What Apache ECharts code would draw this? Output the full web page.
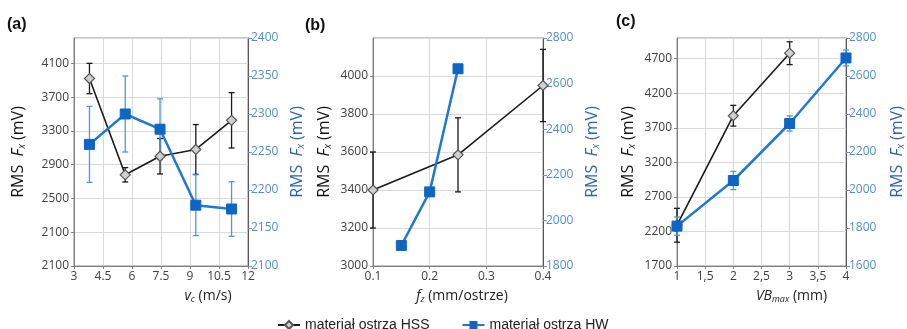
<!DOCTYPE html>
<html>
<head>
<meta charset="utf-8">
<script src="https://cdn.jsdelivr.net/npm/echarts@6/dist/echarts.min.js"></script>
<style>
  html, body { margin: 0; padding: 0; background: #fff; }
  #chart { width: 907px; height: 329px; }
</style>
</head>
<body>
<div id="chart"></div>
<script>
// (a) RMS Fx vs cutting speed
var aX = [3.8, 5.65, 7.45, 9.3, 11.15];
var aHSS = [3920, 2780, 3000, 3080, 3425];
var aHSSErr = [180, 85, 210, 295, 328];
var aHW = [2260, 2300, 2280, 2180, 2175];
var aHWErr = [50, 50, 40, 40, 36];
var aLeftTicks = ['2100', '2100', '2500', '2900', '3300', '3700', '4100'];

// (b) RMS Fx vs feed per tooth
var bXHSS = [0.1, 0.25, 0.4];
var bHSS = [3400, 3585, 3950];
var bHSSErr = [200, 195, 190];
var bXHW = [0.15, 0.2, 0.25];
var bHW = [1890, 2125, 2665];

// (c) RMS Fx vs tool wear
var cXHSS = [1, 2, 3];
var cHSS = [2290, 3875, 4780];
var cHSSErr = [245, 150, 165];
var cXHW = [1, 2, 3, 4];
var cHW = [1810, 2050, 2350, 2695];
var cHWErr = [48, 48, 40, 42];

var nameHSS = 'materiał ostrza HSS';
var nameHW = 'materiał ostrza HW';

var FONT = '"Open Sans", sans-serif';
var BLUE = '#1f78d1';
var BLUE_DARK = '#0d66c2';
var BLUE_ERR = '#4a98dd';
var BLACK = '#1a1a1a';

var chart = echarts.init(document.getElementById('chart'));

function plain(v) { return String(v); }

function pairs(xs, ys) {
  return xs.map(function (x, k) { return [x, ys[k]]; });
}

function errSeries(xs, ys, errs, idx, yi, color) {
  return {
    type: 'custom',
    xAxisIndex: idx,
    yAxisIndex: yi,
    silent: true,
    z: 1,
    data: xs.map(function (x, k) { return [x, ys[k] - errs[k], ys[k] + errs[k]]; }),
    renderItem: function (params, api) {
      var lo = api.coord([api.value(0), api.value(1)]);
      var hi = api.coord([api.value(0), api.value(2)]);
      var st = { stroke: color, lineWidth: 1.3 };
      return {
        type: 'group',
        children: [
          { type: 'line', shape: { x1: lo[0], y1: lo[1], x2: hi[0], y2: hi[1] }, style: st },
          { type: 'line', shape: { x1: lo[0] - 3, y1: lo[1], x2: lo[0] + 3, y2: lo[1] }, style: st },
          { type: 'line', shape: { x1: hi[0] - 3, y1: hi[1], x2: hi[0] + 3, y2: hi[1] }, style: st }
        ]
      };
    }
  };
}

function hssLine(xs, ys, idx, yi) {
  return {
    name: nameHSS, type: 'line', xAxisIndex: idx, yAxisIndex: yi, z: 2,
    data: pairs(xs, ys),
    symbol: 'diamond', symbolSize: 10,
    lineStyle: { color: BLACK, width: 1.6 },
    itemStyle: { color: '#d0d0d0', borderColor: '#555', borderWidth: 1.2 }
  };
}

function hwLine(xs, ys, idx, yi) {
  return {
    name: nameHW, type: 'line', xAxisIndex: idx, yAxisIndex: yi, z: 3,
    data: pairs(xs, ys),
    symbol: 'rect', symbolSize: 10,
    lineStyle: { color: BLUE, width: 2.5 },
    itemStyle: { color: BLUE_DARK, borderColor: BLUE_DARK }
  };
}

var yRich = {
  i: { fontStyle: 'italic', fontSize: 16, fontFamily: FONT },
  s: { fontSize: 10, fontStyle: 'italic', padding: [8, 0, 0, 0], fontFamily: FONT }
};

function leftAxis(grid, min, max, interval, gap, formatter) {
  return {
    type: 'value', gridIndex: grid, position: 'left',
    min: min, max: max, interval: interval,
    name: 'RMS  {i|F}{s|x} (mV)', nameLocation: 'middle', nameRotate: 90, nameGap: gap,
    nameTextStyle: { color: '#111', fontSize: 16, fontFamily: FONT, rich: yRich },
    axisLine: { show: true, lineStyle: { color: '#7f7f7f' } },
    axisTick: { show: true, inside: false, length: 3, lineStyle: { color: '#7f7f7f' } },
    axisLabel: { color: '#404040', fontSize: 12, fontFamily: FONT, margin: 5, showMaxLabel: false, formatter: formatter || plain },
    splitLine: { show: true, lineStyle: { color: '#d9d9d9' } }
  };
}

function rightAxis(grid, min, max, interval, gap) {
  var rich = {
    i: { fontStyle: 'italic', fontSize: 16, fontFamily: FONT, color: '#2e62ad' },
    s: { fontSize: 10, fontStyle: 'italic', padding: [8, 0, 0, 0], fontFamily: FONT, color: '#2e62ad' }
  };
  return {
    type: 'value', gridIndex: grid, position: 'right',
    min: min, max: max, interval: interval,
    name: 'RMS  {i|F}{s|x} (mV)', nameLocation: 'middle', nameRotate: 90, nameGap: gap,
    nameTextStyle: { color: '#2e62ad', fontSize: 16, fontFamily: FONT, rich: rich },
    axisLine: { show: true, lineStyle: { color: '#595959' } },
    axisTick: { show: true, inside: false, length: 4, lineStyle: { color: '#6f95c0' } },
    axisLabel: { color: '#4f8fcf', fontSize: 12, fontFamily: FONT, margin: 3, formatter: plain },
    splitLine: { show: false }
  };
}

var xRich = {
  i: { fontStyle: 'italic', fontSize: 14, fontFamily: FONT, color: '#222' },
  s: { fontStyle: 'italic', fontSize: 9, padding: [7, 0, 0, 0], fontFamily: FONT, color: '#222' }
};

function bottomAxis(grid, min, max, interval, name, shift, formatter) {
  return {
    type: 'value', gridIndex: grid,
    min: min, max: max, interval: interval,
    name: name, nameLocation: 'middle', nameGap: 22,
    nameTextStyle: { color: '#222', fontSize: 14, fontFamily: FONT, rich: xRich, padding: [0, 0, 0, shift] },
    axisLine: { show: true, lineStyle: { color: '#7f7f7f' } },
    axisTick: { show: true, length: 3, lineStyle: { color: '#7f7f7f' } },
    axisLabel: { color: '#404040', fontSize: 12, fontFamily: FONT, margin: 5, formatter: formatter || plain },
    splitLine: { show: true, lineStyle: { color: '#d9d9d9' } }
  };
}

var option = {
  animation: false,
  backgroundColor: '#ffffff',
  grid: [
    { left: 74, top: 38, width: 174, height: 228, show: true, borderColor: '#8c8c8c', borderWidth: 1 },
    { left: 373, top: 38, width: 170, height: 228, show: true, borderColor: '#8c8c8c', borderWidth: 1 },
    { left: 677, top: 38, width: 169, height: 228, show: true, borderColor: '#8c8c8c', borderWidth: 1 }
  ],
  xAxis: [
    bottomAxis(0, 3, 12, 1.5, '{i|v}{s|c} (m/s)', 94),
    bottomAxis(1, 0.1, 0.4, 0.1, '{i|f}{s|z} (mm/ostrze)', 8),
    bottomAxis(2, 1, 4, 0.5, '{i|VB}{s|max} (mm)', 60, function (v) { return String(v).replace('.', ','); })
  ],
  yAxis: [
    leftAxis(0, 1700, 4400, 400, 47, function (v, i) { return aLeftTicks[i]; }),
    rightAxis(0, 2100, 2400, 50, 40),
    leftAxis(1, 3000, 4200, 200, 40),
    rightAxis(1, 1800, 2800, 200, 40),
    leftAxis(2, 1700, 5000, 500, 40),
    rightAxis(2, 1600, 2800, 200, 42)
  ],
  legend: {
    left: 272, top: 313,
    itemGap: 32, itemWidth: 22, itemHeight: 10,
    data: [nameHSS, nameHW],
    textStyle: { fontFamily: '"Liberation Sans", Arial, sans-serif', fontSize: 14, color: '#222' }
  },
  graphic: [
    { type: 'text', left: 7, top: 17, style: { text: '(a)', font: 'bold 16px "Liberation Sans", Arial', fill: '#111' } },
    { type: 'text', left: 305, top: 18, style: { text: '(b)', font: 'bold 16px "Liberation Sans", Arial', fill: '#111' } },
    { type: 'text', left: 616, top: 14, style: { text: '(c)', font: 'bold 16px "Liberation Sans", Arial', fill: '#111' } }
  ],
  series: [
    errSeries(aX, aHSS, aHSSErr, 0, 0, BLACK),
    hssLine(aX, aHSS, 0, 0),
    errSeries(aX, aHW, aHWErr, 0, 1, BLUE_ERR),
    hwLine(aX, aHW, 0, 1),

    errSeries(bXHSS, bHSS, bHSSErr, 1, 2, BLACK),
    hssLine(bXHSS, bHSS, 1, 2),
    hwLine(bXHW, bHW, 1, 3),

    errSeries(cXHSS, cHSS, cHSSErr, 2, 4, BLACK),
    hssLine(cXHSS, cHSS, 2, 4),
    errSeries(cXHW, cHW, cHWErr, 2, 5, BLUE_ERR),
    hwLine(cXHW, cHW, 2, 5)
  ]
};

chart.setOption(option);
window.addEventListener('resize', function () {
  chart.resize();
});
</script>
</body>
</html>
